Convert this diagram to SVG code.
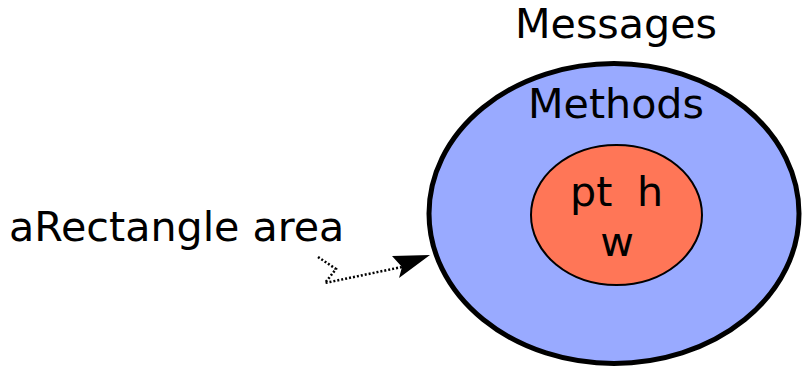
<svg xmlns="http://www.w3.org/2000/svg" width="802" height="371" viewBox="0 0 802 371">
<style>
text{font-family:"DejaVu Sans",sans-serif;font-size:41.2px;fill:#000}
.dot{fill:none;stroke:#000;stroke-width:2.5;stroke-dasharray:2 2}
</style>
<rect width="802" height="371" fill="#fff"/>
<g id="outer">
<ellipse cx="614" cy="213.5" rx="185" ry="150" fill="#99aaff" stroke="#000" stroke-width="5"/>
<text x="616" y="38" text-anchor="middle">Messages</text>
<text x="616" y="118" text-anchor="middle">Methods</text>
</g>
<g id="inner">
<ellipse cx="616.5" cy="215" rx="85.5" ry="70" fill="#ff7657" stroke="#000" stroke-width="2"/>
<text x="570" y="206">pt</text>
<text x="637" y="206">h</text>
<text x="617" y="256" text-anchor="middle">w</text>
</g>
<g id="label">
<text x="9" y="241">aRectangle area</text>
</g>
<g id="connectors">
<path class="dot" d="M318,257 L336,269 L325,283 L402,267"/>
<polygon points="430,255 392,256 402,267 399,278" fill="#000"/>
</g>
</svg>
